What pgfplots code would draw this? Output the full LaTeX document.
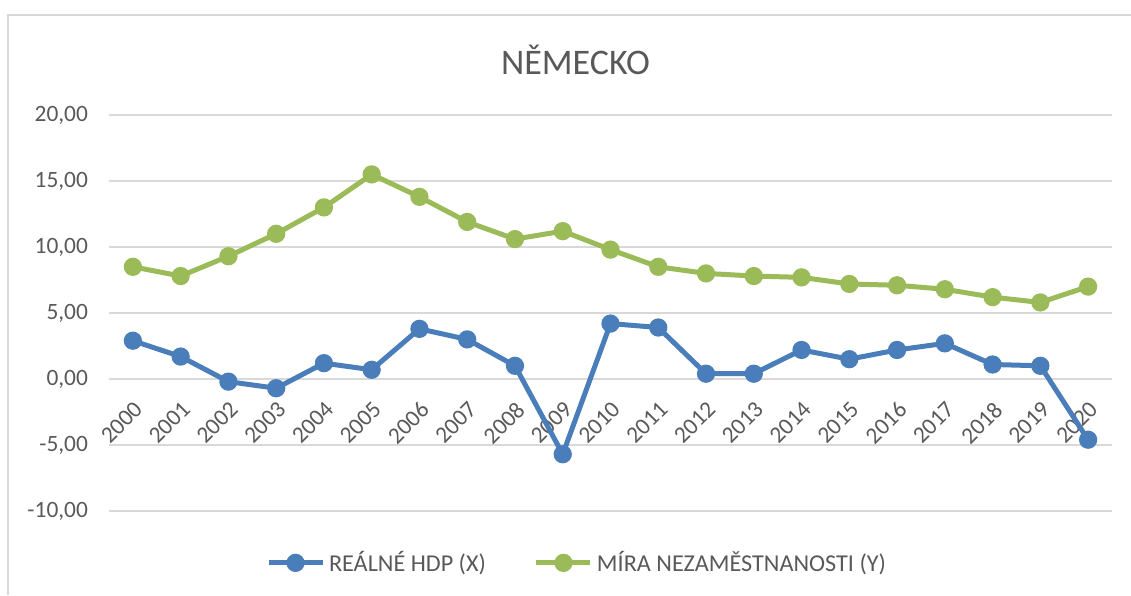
\documentclass[border=0pt]{standalone}
\usepackage{fontspec}
\setmainfont{Carlito}
\usepackage{pgfplots}
\pgfplotsset{compat=1.18}
\definecolor{cblue}{HTML}{4A7EBB}
\definecolor{cgreen}{HTML}{9BBB59}
\definecolor{ctext}{HTML}{595959}
\definecolor{cgrid}{HTML}{D9D9D9}
\begin{document}
\begin{tikzpicture}
\useasboundingbox (0,0) rectangle (565.5pt,297.5pt);
\draw[cgrid, line width=0.75pt] (4pt,0pt) -- (4pt,290pt) -- (565.5pt,290pt);
\node[text=ctext, font=\fontsize{18}{20}\selectfont] at (287.75pt,267.5pt) {NĚMECKO};
\begin{axis}[
  at={(54.5pt,42pt)}, anchor=south west, scale only axis,
  width=501.5pt, height=198pt,
  xmin=-0.5, xmax=20.5, ymin=-10, ymax=20,
  xtick={0,...,20},
  xticklabels={2000,2001,2002,2003,2004,2005,2006,2007,2008,2009,2010,2011,2012,2013,2014,2015,2016,2017,2018,2019,2020},
  ytick={-10,-5,0,5,10,15,20},
  ymajorgrids, grid style={cgrid, line width=0.75pt},
  axis line style={draw=none}, major tick style={draw=none},
  tick label style={text=ctext, font=\fontsize{11.7}{13}\selectfont},
  /pgf/number format/assume math mode=true,
  yticklabel style={xshift=-7pt, /pgf/number format/fixed, /pgf/number format/fixed zerofill, /pgf/number format/precision=2, /pgf/number format/use comma},
  xticklabel style={yshift=57pt, rotate=45, anchor=north east, inner sep=1pt},
  legend style={at={(0.4676,-0.131)}, anchor=center, draw=none, fill=none,
    font=\fontsize{12.1}{13}\selectfont, text=ctext, legend columns=2,
    /tikz/every even column/.append style={column sep=22pt}},
  legend image code/.code={\draw[mark repeat=2,mark phase=2,#1] plot coordinates {(0pt,0pt) (13.5pt,0pt) (27pt,0pt)};},
]
\addplot[cblue, line width=2.5pt, mark=*, mark size=3.3pt, mark options={solid}] coordinates {
(0,2.9) (1,1.7) (2,-0.2) (3,-0.7) (4,1.2) (5,0.7) (6,3.8) (7,3.0) (8,1.0) (9,-5.7)
(10,4.2) (11,3.9) (12,0.4) (13,0.4) (14,2.2) (15,1.5) (16,2.2) (17,2.7) (18,1.1) (19,1.0) (20,-4.6)};
\addlegendentry{REÁLNÉ HDP (X)}
\addplot[cgreen, line width=2.5pt, mark=*, mark size=3.3pt, mark options={solid}] coordinates {
(0,8.5) (1,7.8) (2,9.3) (3,11.0) (4,13.0) (5,15.5) (6,13.8) (7,11.9) (8,10.6) (9,11.2)
(10,9.8) (11,8.5) (12,8.0) (13,7.8) (14,7.7) (15,7.2) (16,7.1) (17,6.8) (18,6.2) (19,5.8) (20,7.0)};
\addlegendentry{MÍRA NEZAMĚSTNANOSTI (Y)}
\end{axis}
\end{tikzpicture}
\end{document}
